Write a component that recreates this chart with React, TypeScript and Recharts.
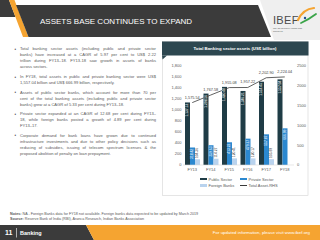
import React from 'react';
import { ComposedChart, Bar, Line, XAxis, YAxis, Legend, LabelList } from 'recharts';

const years = ['FY13', 'FY14', 'FY15', 'FY16', 'FY17', 'FY18'];
const publicSector = [1137.12, 1298.56, 1420.48, 1346.21, 1514.45, 1557.04];
const privateSector = [318.42, 359.63, 413.22, 479.27, 557.87, 666.99];
const foreignBanks: (number | null)[] = [104.36, 114.27, 120.41, 120.17, 105.89, null];
const totalAssets = [1575.54, 1767.58, 1955.08, 1957.22, 2202.9, 2224.04];
const leftTicks = [0, 200, 400, 600, 800, 1000, 1200, 1400, 1600, 1800];
const rightTicks = [0, 500, 1000, 1500, 2000, 2500];
const seriesNames = ['Public Sector', 'Private Sector', 'Foreign Banks', 'Total Asset-RHS'];

const slideTitle = 'ASSETS BASE CONTINUES TO EXPAND';
const chartTitle = 'Total Banking sector assets (US$ billion)';
const bullets: string[][] = [
  [
    'Total banking sector assets (including public and private sector',
    'banks) have increased at a CAGR of 5.97 per cent to US$ 2.22',
    'trillion during FY13–18. FY13-18 saw growth in assets of banks',
    'across sectors.',
  ],
  [
    'In FY18, total assets in public and private banking sector were US$',
    '1,557.04 billion and US$ 666.99 billion, respectively.',
  ],
  [
    'Assets of public sector banks, which account for more than 70 per',
    'cent of the total banking assets (including public and private sector',
    'banks) grew at a CAGR of 5.33 per cent during FY13–18.',
  ],
  [
    'Private sector expanded at an CAGR of 12.68 per cent during FY13–',
    '18, while foreign banks posted a growth of 4.89 per cent during',
    'FY13–17.',
  ],
  [
    'Corporate demand for bank loans have grown due to continued',
    'infrastructure investments and due to other policy decisions such as',
    'reducing of subsidies, issuing of telecom spectrum licenses & the',
    'proposed abolition of penalty on loan prepayment.',
  ],
];
const noteText = 'NA - Foreign Banks data for FY18 not available. Foreign banks data expected to be updated by March 2019';
const sourceText = 'Reserve Bank of India (RBI), Aranca Research, Indian Banks Association';
const footerLeft = 'Banking';
const pageNo = '11';
const footerRight = 'For updated information, please visit www.ibef.org';

const C = {
  pub: '#1f3c46',
  priv: '#2b88d0',
  foreign: '#b9d3ee',
  line: '#3a3a3a',
  header: '#2d4750',
  banner: '#3b3b3b',
  orange: '#f5a431',
  text: '#595959',
};

const data = years.map((y, i) => ({
  year: y,
  pub: publicSector[i],
  priv: privateSector[i],
  foreign: foreignBanks[i] ?? 0,
  total: totalAssets[i],
}));

const fmt = (v: number) =>
  Number(v).toLocaleString('en-US', { minimumFractionDigits: 2, maximumFractionDigits: 2 });

const InsideLabel = (props: any) => {
  const { x, y, width, value } = props;
  if (value == null) return null;
  const cx = Number(x) + Number(width) / 2;
  const ty = Number(y) + 1.3;
  return (
    <text x={cx} y={ty} transform={`rotate(-90 ${cx} ${ty})`} textAnchor="end" dominantBaseline="central" fontSize={3.3} fill="#ffffff">
      {fmt(value)}
    </text>
  );
};

const ForeignLabel = (props: any) => {
  const { x, y, width, index } = props;
  const cx = Number(x) + Number(width) / 2;
  const src = foreignBanks[index];
  if (src == null) {
    return (
      <text x={cx + 1} y={Number(y) - 1.2} textAnchor="middle" fontSize={3.4} fill="#404040">NA</text>
    );
  }
  const ty = Number(y) - 1.2;
  return (
    <text x={cx} y={ty} transform={`rotate(-90 ${cx} ${ty})`} textAnchor="start" dominantBaseline="central" fontSize={3.3} fill="#404040">
      {fmt(src)}
    </text>
  );
};

const legendLayout: Record<string, { left: number; top: number }> = {
  'Public Sector': { left: 38, top: 1.5 },
  'Private Sector': { left: 78, top: 1.5 },
  'Foreign Banks': { left: 38, top: 8 },
  'Total Asset-RHS': { left: 78, top: 8 },
};

const LegendContent = (props: any) => {
  const payload: any[] = props.payload || [];
  return (
    <div style={{ position: 'relative', width: 146, height: 20 }}>
      {payload.map((p) => {
        const pos = legendLayout[p.value];
        if (!pos) return null;
        const isLine = p.type === 'line';
        return (
          <div key={p.value} style={{ position: 'absolute', left: pos.left, top: pos.top, height: 5, display: 'flex', alignItems: 'center', whiteSpace: 'nowrap' }}>
            <div style={{ width: 7, height: isLine ? 0.8 : 2.2, background: p.color, marginRight: 1.5 }} />
            <span style={{ fontSize: 4, color: C.text, lineHeight: '5px' }}>{p.value}</span>
          </div>
        );
      })}
    </div>
  );
};

const bulletLineTops = [
  [49, 55, 61, 67],
  [77, 83],
  [92.5, 98.5, 104.5],
  [114, 120, 126],
  [135.5, 141.5, 147.5, 153.5],
];

export default function App() {
  return (
    <div style={{ position: 'fixed', left: 0, top: 0, width: 320, height: 240, background: '#ffffff', overflow: 'hidden', fontFamily: '"Liberation Sans", Arial, sans-serif' }}>
      <svg width={320} height={240} style={{ position: 'absolute', left: 0, top: 0 }}>
        {/* logo area */}
        <polygon points="260,0 320,0 320,40 274,40" fill="#efefef" />
        {/* top-left corner */}
        <polygon points="0,0 9,0 15.5,17 0,17" fill={C.banner} />
        <polygon points="9,0 14.5,0 28.5,37 23,37" fill={C.orange} />
        {/* banner */}
        <polygon points="16,5 258,5 271,37 28.5,37" fill={C.banner} />
        <text x={40} y={21.8} dominantBaseline="central" fontSize={8} fill="#ffffff">{slideTitle}</text>
        {/* IBEF logo */}
        <text x={273} y={23.5} fontSize={11} fill="#4a4a4a" letterSpacing={0.3}>IBEF</text>
        <path d="M298,20 Q303,9 314,8" stroke={C.orange} strokeWidth={2.2} fill="none" strokeLinecap="round" />
        <path d="M301,23 Q308,20 316,14" stroke="#3aa449" strokeWidth={1.8} fill="none" strokeLinecap="round" />
        <circle cx={305} cy={18} r={1.2} fill="#1f4e8c" />
        <text x={273} y={29} fontSize={1.7} fill="#555">INDIA BRAND EQUITY FOUNDATION</text>
        <text x={273} y={32} fontSize={1.7} fill="#555">www.ibef.org</text>

        {/* chart box */}
        <rect x={162.5} y={41.5} width={145.5} height={154} fill="#ffffff" stroke="#d4d4d4" strokeWidth={0.6} />
        <rect x={162} y={41.5} width={146.5} height={14} fill={C.header} />
        <polygon points="162,55.5 167,55.5 162.5,59.5" fill={C.header} />
        <text x={235} y={48.5} dominantBaseline="central" textAnchor="middle" fontSize={4.3} fontWeight="bold" fill="#ffffff">{chartTitle}</text>

        {/* bullets */}
        {bullets.map((b, i) => (
          <text key={i} x={14.5} y={bulletLineTops[i][0]} dominantBaseline="central" fontSize={4.5} fill={C.text}>•</text>
        ))}

        {/* notes */}
        <text x={10} y={214.5} fontSize={3.7} fill={C.text}>
          <tspan fontWeight="bold">Notes: </tspan>
          {noteText}
        </text>
        <text x={10} y={219.6} fontSize={3.7} fill={C.text}>
          <tspan fontWeight="bold">Source: </tspan>
          {sourceText}
        </text>

        {/* footer */}
        <polygon points="0,225 86,225 94,240 0,240" fill={C.banner} />
        <polygon points="86,225 320,225 320,240 94,240" fill={C.orange} />
        <text x={5} y={235} fontSize={7} fontWeight="bold" fill="#ffffff">{pageNo}</text>
        <line x1={16.5} y1={228} x2={16.5} y2={237.5} stroke="#ffffff" strokeWidth={0.6} />
        <text x={20} y={234.8} fontSize={5.5} fontWeight="bold" fill="#ffffff">{footerLeft}</text>
        <text x={310} y={234.3} fontSize={4.4} textAnchor="end" fill="#ffffff">{footerRight}</text>
      </svg>

      {bullets.map((lines, i) =>
        lines.map((ln, j) => {
          const last = j === lines.length - 1;
          return (
            <div
              key={`${i}-${j}`}
              style={{
                position: 'absolute',
                left: 20,
                top: bulletLineTops[i][j] - 3,
                width: 136,
                height: 6,
                lineHeight: '6px',
                fontSize: 4.1,
                color: C.text,
                textAlign: 'justify',
                textAlignLast: last ? 'left' : 'justify',
                whiteSpace: 'nowrap',
              } as React.CSSProperties}
            >
              {ln}
            </div>
          );
        })
      )}

      <div style={{ position: 'absolute', left: 162, top: 56 }}>
        <ComposedChart width={146} height={140} data={data} margin={{ top: 10, right: 0, bottom: 1, left: 0 }} barGap={0}>
          <XAxis dataKey="year" axisLine={{ stroke: '#d9d9d9', strokeWidth: 0.6 }} tickLine={false} tickSize={0} tickMargin={3.5} height={10} tick={{ fontSize: 4, fill: C.text }} interval={0} />
          <YAxis yAxisId="left" domain={[0, 1800]} ticks={leftTicks} width={21} axisLine={false} tickLine={false} tickSize={0} tickMargin={1.5} tick={{ fontSize: 4, fill: C.text }} tickFormatter={(v: number) => v.toLocaleString('en-US')} interval={0} />
          <YAxis yAxisId="right" orientation="right" domain={[0, 2500]} ticks={rightTicks} width={14} axisLine={false} tickLine={false} tickSize={0} tickMargin={3} tick={{ fontSize: 4, fill: C.text, textAnchor: 'start' }} interval={0} />
          <Bar yAxisId="left" dataKey="pub" name={seriesNames[0]} fill={C.pub} barSize={5} isAnimationActive={false} legendType="rect">
            <LabelList dataKey="pub" content={InsideLabel} />
          </Bar>
          <Bar yAxisId="left" dataKey="priv" name={seriesNames[1]} fill={C.priv} barSize={5} isAnimationActive={false} legendType="rect">
            <LabelList dataKey="priv" content={InsideLabel} />
          </Bar>
          <Bar yAxisId="left" dataKey="foreign" name={seriesNames[2]} fill={C.foreign} barSize={5} isAnimationActive={false} legendType="rect">
            <LabelList dataKey="foreign" content={ForeignLabel} />
          </Bar>
          <Line yAxisId="right" dataKey="total" name={seriesNames[3]} type="linear" stroke={C.line} strokeWidth={0.8} dot={false} isAnimationActive={false} legendType="line">
            <LabelList dataKey="total" position="top" offset={4} fontSize={3.8} fill="#404040" formatter={(v: any) => fmt(v)} />
          </Line>
          <Legend verticalAlign="bottom" align="left" content={LegendContent} wrapperStyle={{ left: 0, width: 146, height: 20 }} />
        </ComposedChart>
      </div>
    </div>
  );
}
